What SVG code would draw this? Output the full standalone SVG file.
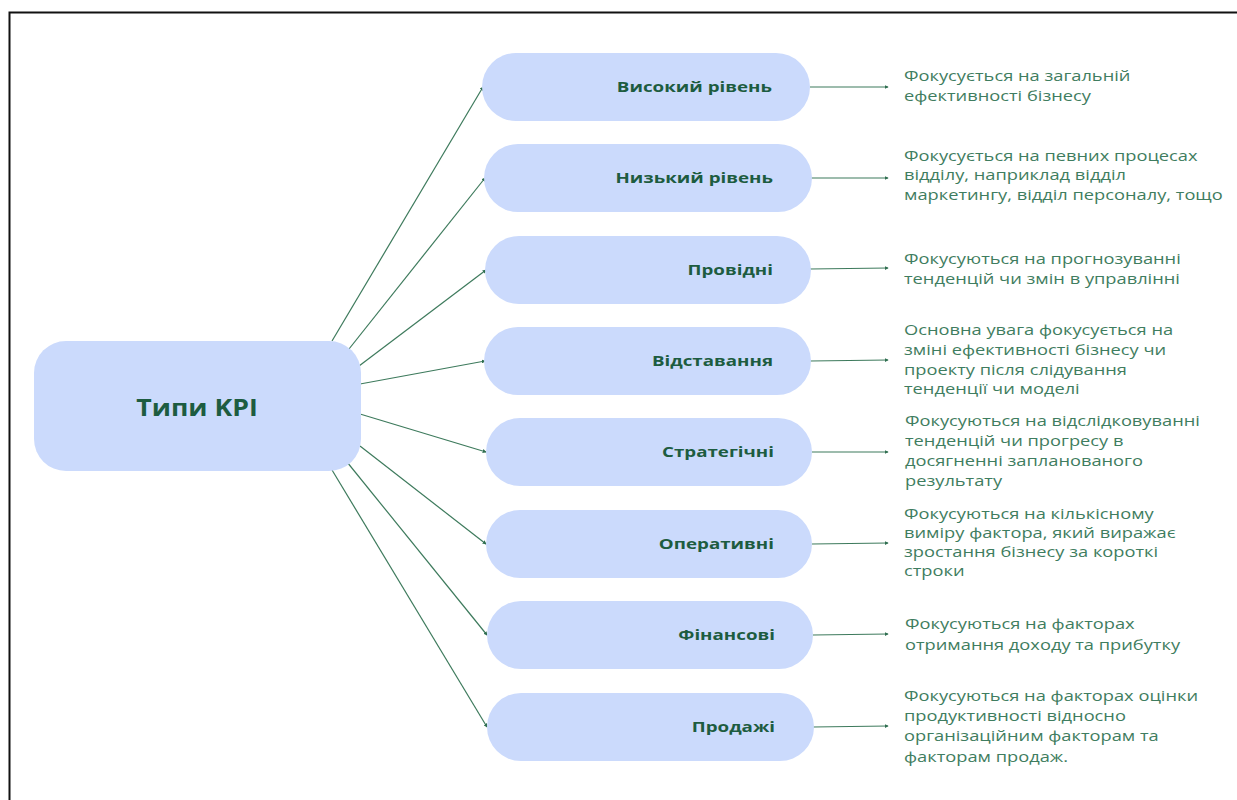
<svg xmlns="http://www.w3.org/2000/svg" width="1237" height="800" viewBox="0 0 1237 800">
<defs>
<style>
.pill{fill:#cbdafc;}
.lbl{font-family:"Open Sans","Noto Sans",sans-serif;font-weight:700;font-size:15px;fill:#1d5c40;text-anchor:end;}
.main{font-family:"Open Sans","Noto Sans",sans-serif;font-weight:700;font-size:23px;fill:#1d5c40;text-anchor:middle;}
.desc{font-family:"Open Sans","Noto Sans",sans-serif;font-size:14.5px;fill:#3f7d60;}
.con line{stroke:#3d7a5c;stroke-width:1.2;fill:none;marker-end:url(#ah);}
</style>
<marker id="ah" viewBox="0 0 6 6" refX="5" refY="3" markerWidth="4" markerHeight="4" orient="auto" markerUnits="userSpaceOnUse">
<path d="M0,0 L6,3 L0,6 z" fill="#2f6e50"/>
</marker>
</defs>
<rect x="0" y="0" width="1237" height="800" fill="#ffffff"/>
<rect x="9.5" y="12.5" width="1400" height="900" fill="none" stroke="#111" stroke-width="2"/>

<g id="connectors" class="con">
<line x1="332" y1="341" x2="483" y2="87"/>
<line x1="349" y1="349" x2="485" y2="178"/>
<line x1="359" y1="366" x2="486" y2="270"/>
<line x1="360" y1="384" x2="485" y2="361"/>
<line x1="360" y1="414" x2="486" y2="452"/>
<line x1="360" y1="446" x2="486" y2="544"/>
<line x1="347" y1="462" x2="487" y2="635"/>
<line x1="332" y1="470" x2="487" y2="727"/>
<line x1="810" y1="87" x2="888" y2="87"/>
<line x1="811" y1="178" x2="888" y2="178"/>
<line x1="810" y1="269" x2="888" y2="268"/>
<line x1="810" y1="361" x2="888" y2="360"/>
<line x1="812" y1="452" x2="888" y2="452"/>
<line x1="812" y1="544" x2="888" y2="543"/>
<line x1="813" y1="635" x2="888" y2="634"/>
<line x1="813" y1="727" x2="888" y2="726"/>
</g>

<g id="center">
<rect x="34" y="341" width="327" height="130" rx="32" class="pill"/>
<text transform="translate(197,0) scale(1.16,1)" x="0" y="416" class="main">Типи KPI</text>
</g>

<g id="n1">
<rect x="482" y="53" width="328" height="68" rx="34" class="pill"/>
<text transform="translate(772,0) scale(1.25,1)" x="0" y="92" class="lbl">Високий рівень</text>
</g>
<g id="n2">
<rect x="484" y="144" width="328" height="68" rx="34" class="pill"/>
<text transform="translate(773,0) scale(1.25,1)" x="0" y="183" class="lbl">Низький рівень</text>
</g>
<g id="n3">
<rect x="485" y="236" width="326" height="68" rx="34" class="pill"/>
<text transform="translate(773,0) scale(1.25,1)" x="0" y="275" class="lbl">Провідні</text>
</g>
<g id="n4">
<rect x="484" y="327" width="327" height="68" rx="34" class="pill"/>
<text transform="translate(773,0) scale(1.25,1)" x="0" y="366" class="lbl">Відставання</text>
</g>
<g id="n5">
<rect x="486" y="418" width="326" height="68" rx="34" class="pill"/>
<text transform="translate(774,0) scale(1.25,1)" x="0" y="457" class="lbl">Стратегічні</text>
</g>
<g id="n6">
<rect x="486" y="510" width="326" height="68" rx="34" class="pill"/>
<text transform="translate(774,0) scale(1.25,1)" x="0" y="549" class="lbl">Оперативні</text>
</g>
<g id="n7">
<rect x="487" y="601" width="326" height="68" rx="34" class="pill"/>
<text transform="translate(775,0) scale(1.25,1)" x="0" y="640" class="lbl">Фінансові</text>
</g>
<g id="n8">
<rect x="487" y="693" width="327" height="68" rx="34" class="pill"/>
<text transform="translate(775,0) scale(1.25,1)" x="0" y="732" class="lbl">Продажі</text>
</g>

<g id="d1"><text class="desc" transform="translate(904,0) scale(1.26,1)"><tspan x="0" y="81">Фокусується на загальній</tspan><tspan x="0" y="101">ефективності бізнесу</tspan></text></g>
<g id="d2"><text class="desc" transform="translate(904,0) scale(1.26,1)"><tspan x="0" y="161">Фокусується на певних процесах</tspan><tspan x="0" y="180.5">відділу, наприклад відділ</tspan><tspan x="0" y="200">маркетингу, відділ персоналу, тощо</tspan></text></g>
<g id="d3"><text class="desc" transform="translate(904,0) scale(1.26,1)"><tspan x="0" y="264">Фокусуються на прогнозуванні</tspan><tspan x="0" y="284">тенденцій чи змін в управлінні</tspan></text></g>
<g id="d4"><text class="desc" transform="translate(904,0) scale(1.26,1)"><tspan x="0" y="335">Основна увага фокусується на</tspan><tspan x="0" y="355">зміні ефективності бізнесу чи</tspan><tspan x="0" y="375">проекту після слідування</tspan><tspan x="0" y="394">тенденції чи моделі</tspan></text></g>
<g id="d5"><text class="desc" transform="translate(905,0) scale(1.26,1)"><tspan x="0" y="426">Фокусуються на відслідковуванні</tspan><tspan x="0" y="446">тенденцій чи прогресу в</tspan><tspan x="0" y="466">досягненні запланованого</tspan><tspan x="0" y="486">результату</tspan></text></g>
<g id="d6"><text class="desc" transform="translate(904,0) scale(1.26,1)"><tspan x="0" y="519">Фокусуються на кількісному</tspan><tspan x="0" y="538">виміру фактора, який виражає</tspan><tspan x="0" y="557">зростання бізнесу за короткі</tspan><tspan x="0" y="576">строки</tspan></text></g>
<g id="d7"><text class="desc" transform="translate(905,0) scale(1.26,1)"><tspan x="0" y="629">Фокусуються на факторах</tspan><tspan x="0" y="650">отримання доходу та прибутку</tspan></text></g>
<g id="d8"><text class="desc" transform="translate(904,0) scale(1.26,1)"><tspan x="0" y="701">Фокусуються на факторах оцінки</tspan><tspan x="0" y="721">продуктивності відносно</tspan><tspan x="0" y="741">організаційним факторам та</tspan><tspan x="0" y="762">факторам продаж.</tspan></text></g>
</svg>
